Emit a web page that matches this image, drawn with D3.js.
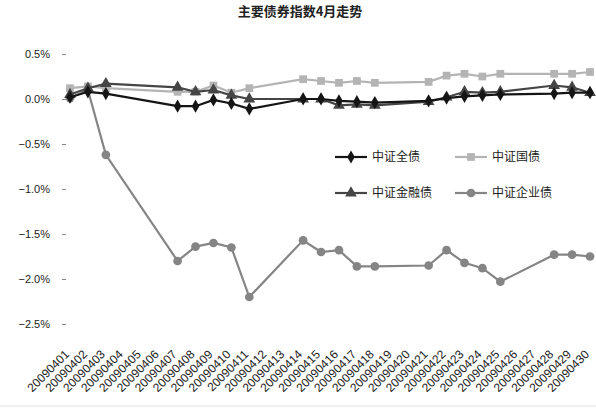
<!DOCTYPE html>
<html>
<head>
<meta charset="utf-8">
<script src="https://cdn.jsdelivr.net/npm/d3@7"></script>
<style>
  body { margin: 0; background: #fff; }
  svg { display: block; }
</style>
</head>
<body>
<div id="chart"></div>
<script>
// categories: every calendar day of April 2009, data only on trading days
const dates = ["20090401","20090402","20090403","20090404","20090405","20090406","20090407","20090408","20090409","20090410",
  "20090411","20090412","20090413","20090414","20090415","20090416","20090417","20090418","20090419","20090420",
  "20090421","20090422","20090423","20090424","20090425","20090426","20090427","20090428","20090429","20090430"];

// values in %, null where no point is drawn
const quanzhai = [0.02, 0.08, 0.06, null, null, null, -0.08, -0.08, -0.01, -0.05,
  -0.11, null, null, 0.00, 0.00, -0.02, -0.03, -0.04, null, null,
  -0.02, 0.01, 0.03, 0.04, 0.05, null, null, 0.06, 0.07, 0.07];
const guozhai = [0.12, 0.14, 0.12, null, null, null, 0.08, 0.08, 0.15, 0.07,
  0.12, null, null, 0.22, 0.20, 0.18, 0.20, 0.18, null, null,
  0.19, 0.26, 0.28, 0.25, 0.28, null, null, 0.28, 0.28, 0.30];
const jinrongzhai = [0.05, 0.12, 0.17, null, null, null, 0.13, 0.08, 0.10, 0.04,
  0.00, null, null, 0.00, 0.00, -0.07, -0.06, -0.07, null, null,
  -0.03, 0.02, 0.08, 0.07, 0.08, null, null, 0.15, 0.13, 0.07];
const qiyezhai = [0.01, 0.10, -0.62, null, null, null, -1.80, -1.64, -1.60, -1.65,
  -2.20, null, null, -1.57, -1.70, -1.68, -1.86, -1.86, null, null,
  -1.85, -1.68, -1.82, -1.88, -2.03, null, null, -1.73, -1.73, -1.75];

const yTicks = [0.5, 0.0, -0.5, -1.0, -1.5, -2.0, -2.5];
const title = "主要债券指数4月走势";

const width = 596, height = 409;

const series = [
  {name: "中证全债", values: quanzhai, color: "#151515", symbol: d3.symbolDiamond, size: 50},
  {name: "中证国债", values: guozhai, color: "#b4b4b4", symbol: d3.symbolSquare, size: 60},
  {name: "中证金融债", values: jinrongzhai, color: "#454545", symbol: d3.symbolTriangle, size: 60},
  {name: "中证企业债", values: qiyezhai, color: "#858585", symbol: d3.symbolCircle, size: 60}
];

const svg = d3.select("#chart").append("svg")
  .attr("width", width)
  .attr("height", height);

svg.append("text")
  .attr("x", 300)
  .attr("y", 16)
  .attr("text-anchor", "middle")
  .style("font-family", "'Noto Sans CJK SC', sans-serif")
  .style("font-size", "13px")
  .style("font-weight", "bold")
  .style("fill", "#222")
  .text(title);

const x = d3.scalePoint(dates, [70, 590]);
const y = d3.scaleLinear([-2.5, 0.5], [324, 54]);

// y axis: labels and short ticks only
const yAxis = d3.axisLeft(y)
  .tickValues(yTicks)
  .tickSize(4)
  .tickPadding(12)
  .tickFormat(d => d3.format(".1f")(d) + "%");

svg.append("g")
  .attr("transform", "translate(66,0)")
  .call(yAxis)
  .call(g => g.select(".domain").remove())
  .call(g => g.selectAll("line").attr("stroke", "#888"))
  .call(g => g.selectAll("text")
    .style("font-family", "'Liberation Sans', Arial, sans-serif")
    .style("font-size", "11px")
    .style("fill", "#222"));

// x labels, rotated 45 degrees
svg.append("g")
  .selectAll("text")
  .data(dates)
  .join("text")
  .attr("transform", d => `translate(${x(d) - 3},${352}) rotate(-45)`)
  .attr("text-anchor", "end")
  .attr("dy", "0.35em")
  .style("font-family", "'Liberation Sans', Arial, sans-serif")
  .style("font-size", "12px")
  .style("fill", "#222")
  .text(d => d);

// lines connect across days without data
const line = d3.line()
  .x(d => x(d.date))
  .y(d => y(d.v));

const drawOrder = [3, 1, 2, 0];
drawOrder.forEach(k => {
  const s = series[k];
  const pts = dates.map((d, i) => ({date: d, v: s.values[i]})).filter(p => p.v !== null);
  const g = svg.append("g");
  g.append("path")
    .attr("d", line(pts))
    .attr("fill", "none")
    .attr("stroke", s.color)
    .attr("stroke-width", 2.2);
  g.selectAll("path.mark")
    .data(pts)
    .join("path")
    .attr("class", "mark")
    .attr("transform", p => `translate(${x(p.date)},${y(p.v)})`)
    .attr("d", d3.symbol(s.symbol, s.size))
    .attr("fill", s.color);
});

// legend
const legendPos = [
  {lx: 335, ty: 157}, {lx: 455, ty: 157},
  {lx: 335, ty: 193}, {lx: 455, ty: 193}
];
series.forEach((s, i) => {
  const p = legendPos[i];
  const g = svg.append("g");
  g.append("line")
    .attr("x1", p.lx).attr("x2", p.lx + 32)
    .attr("y1", p.ty).attr("y2", p.ty)
    .attr("stroke", s.color)
    .attr("stroke-width", 2.2);
  g.append("path")
    .attr("transform", `translate(${p.lx + 16},${p.ty})`)
    .attr("d", d3.symbol(s.symbol, s.size))
    .attr("fill", s.color);
  g.append("text")
    .attr("x", p.lx + 37)
    .attr("y", p.ty)
    .attr("dy", "0.35em")
    .style("font-family", "'Noto Sans CJK SC', sans-serif")
    .style("font-size", "12px")
    .style("fill", "#222")
    .text(s.name);
});

// faint frame edge at the bottom
svg.append("line")
  .attr("x1", 0).attr("x2", width)
  .attr("y1", 406).attr("y2", 406)
  .attr("stroke", "#e2e2e2");
</script>
</body>
</html>
